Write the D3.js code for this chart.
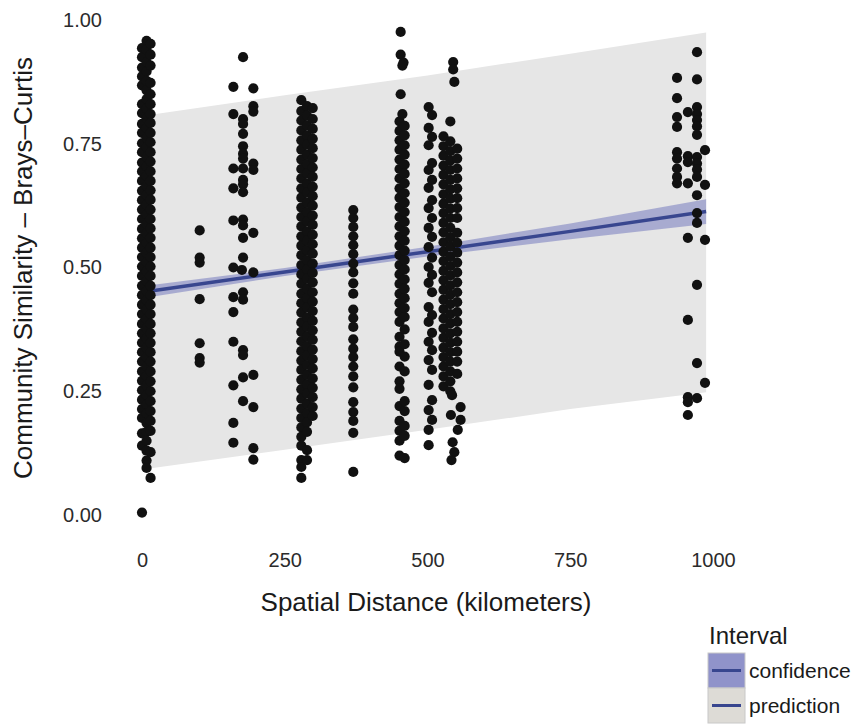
<!DOCTYPE html>
<html>
<head>
<meta charset="utf-8">
<script src="https://cdn.jsdelivr.net/npm/d3@7"></script>
<style>
  body { margin: 0; background: #fff; }
  text { font-family: "Liberation Sans", Arial, Helvetica, sans-serif; }
</style>
</head>
<body>
<script>
// ---- data ----
var xTicks = [0, 250, 500, 750, 1000];
var yTicks = [0, 0.25, 0.5, 0.75, 1];

// fitted line + intervals, sampled along distance
var fitKm = [0, 250, 500, 750, 988];
var fitSim = [0.45, 0.491, 0.532, 0.573, 0.613];
var confLow = [0.438, 0.483, 0.522, 0.557, 0.588];
var confHigh = [0.462, 0.499, 0.542, 0.589, 0.638];
var predLow = [0.092, 0.132, 0.172, 0.214, 0.248];
var predHigh = [0.806, 0.848, 0.888, 0.932, 0.975];

var legendLabels = ["confidence", "prediction"];

// dense columns: one distance per lane, list of similarities per lane
var kmA = [0, 8, 15];
var simA = [
  [0.943, 0.925, 0.904, 0.886, 0.868, 0.83, 0.812, 0.79, 0.772, 0.751, 0.733, 0.712, 0.694, 0.675, 0.655, 0.636, 0.617, 0.598, 0.578, 0.559, 0.54, 0.521, 0.502, 0.483, 0.463, 0.444, 0.425, 0.406, 0.386, 0.367, 0.348, 0.329, 0.31, 0.29, 0.271, 0.252, 0.233, 0.214, 0.196, 0.165, 0.14, 0.005],
  [0.958, 0.94, 0.915, 0.896, 0.877, 0.858, 0.84, 0.821, 0.801, 0.782, 0.762, 0.743, 0.723, 0.704, 0.685, 0.665, 0.646, 0.627, 0.607, 0.588, 0.569, 0.55, 0.53, 0.511, 0.492, 0.473, 0.453, 0.434, 0.415, 0.396, 0.377, 0.357, 0.338, 0.319, 0.3, 0.281, 0.262, 0.242, 0.223, 0.205, 0.186, 0.168, 0.15, 0.13, 0.11, 0.095],
  [0.952, 0.93, 0.908, 0.873, 0.85, 0.83, 0.81, 0.792, 0.772, 0.753, 0.733, 0.714, 0.694, 0.675, 0.656, 0.637, 0.617, 0.598, 0.579, 0.56, 0.54, 0.521, 0.502, 0.483, 0.463, 0.444, 0.425, 0.406, 0.386, 0.367, 0.348, 0.329, 0.31, 0.29, 0.27, 0.25, 0.23, 0.21, 0.19, 0.17, 0.127, 0.075]
];

var kmD = [279, 289, 299];
var simD = [
  [0.838, 0.816, 0.797, 0.777, 0.757, 0.738, 0.718, 0.699, 0.68, 0.66, 0.641, 0.621, 0.602, 0.583, 0.563, 0.544, 0.525, 0.505, 0.486, 0.467, 0.447, 0.428, 0.409, 0.389, 0.37, 0.351, 0.331, 0.312, 0.293, 0.273, 0.254, 0.235, 0.215, 0.196, 0.177, 0.158, 0.14, 0.111, 0.097, 0.075],
  [0.826, 0.807, 0.787, 0.767, 0.748, 0.728, 0.709, 0.69, 0.67, 0.651, 0.631, 0.612, 0.593, 0.573, 0.554, 0.535, 0.515, 0.496, 0.477, 0.457, 0.438, 0.419, 0.399, 0.38, 0.361, 0.341, 0.322, 0.303, 0.283, 0.264, 0.245, 0.225, 0.206, 0.187, 0.168, 0.131, 0.111],
  [0.822, 0.8, 0.78, 0.76, 0.741, 0.721, 0.702, 0.683, 0.663, 0.644, 0.625, 0.605, 0.586, 0.566, 0.547, 0.528, 0.508, 0.489, 0.47, 0.45, 0.431, 0.412, 0.392, 0.373, 0.354, 0.334, 0.315, 0.296, 0.276, 0.257, 0.238, 0.218, 0.2]
];

var kmE = [370];
var simE = [
  [0.616, 0.6, 0.582, 0.563, 0.545, 0.527, 0.508, 0.49, 0.468, 0.447, 0.415, 0.398, 0.38, 0.355, 0.336, 0.319, 0.3, 0.28, 0.258, 0.228, 0.208, 0.19, 0.166, 0.087]
];

var kmF = [451, 460];
var simF = [
  [0.795, 0.776, 0.757, 0.738, 0.718, 0.699, 0.68, 0.66, 0.641, 0.622, 0.602, 0.583, 0.563, 0.544, 0.525, 0.505, 0.486, 0.467, 0.447, 0.428, 0.41, 0.39, 0.36, 0.34, 0.33, 0.3, 0.27, 0.255, 0.22, 0.19, 0.17, 0.15, 0.12],
  [0.786, 0.767, 0.747, 0.728, 0.708, 0.689, 0.67, 0.65, 0.631, 0.612, 0.592, 0.573, 0.554, 0.534, 0.515, 0.496, 0.476, 0.457, 0.438, 0.418, 0.4, 0.375, 0.345, 0.32, 0.29, 0.23, 0.21, 0.18, 0.16, 0.115]
];

var kmG = [502, 508];
var simG = [
  [0.824, 0.782, 0.747, 0.697, 0.661, 0.62, 0.58, 0.541, 0.501, 0.469, 0.42, 0.39, 0.35, 0.313, 0.263, 0.212, 0.172, 0.141],
  [0.808, 0.764, 0.711, 0.677, 0.636, 0.6, 0.562, 0.52, 0.485, 0.45, 0.404, 0.368, 0.333, 0.293, 0.232, 0.192]
];

var kmH = [528, 540, 552];
var simH = [
  [0.765, 0.745, 0.726, 0.706, 0.687, 0.668, 0.648, 0.629, 0.61, 0.59, 0.571, 0.551, 0.532, 0.513, 0.493, 0.474, 0.455, 0.435, 0.416, 0.397, 0.377, 0.358, 0.338, 0.319, 0.3, 0.28, 0.26],
  [0.755, 0.735, 0.716, 0.697, 0.677, 0.658, 0.639, 0.619, 0.6, 0.58, 0.561, 0.542, 0.522, 0.503, 0.484, 0.464, 0.445, 0.426, 0.406, 0.387, 0.367, 0.348, 0.329, 0.31, 0.29, 0.27, 0.25],
  [0.74, 0.72, 0.7, 0.68, 0.66, 0.64, 0.62, 0.6, 0.57, 0.55, 0.53, 0.51, 0.49, 0.47, 0.45, 0.43, 0.41, 0.39, 0.37, 0.35, 0.33, 0.31, 0.285]
];

// loose points [km, similarity]
var loosePoints = [
  [101, 0.575], [101, 0.52], [101, 0.51], [101, 0.436], [101, 0.347], [101, 0.317], [101, 0.308],
  [177, 0.925], [160, 0.865], [195, 0.862], [195, 0.826], [195, 0.815], [160, 0.81], [177, 0.8], [177, 0.79],
  [177, 0.77], [177, 0.745], [177, 0.73], [177, 0.72], [195, 0.71], [160, 0.7], [177, 0.7], [195, 0.697],
  [177, 0.677], [177, 0.668], [160, 0.66], [177, 0.652], [160, 0.595], [177, 0.597], [177, 0.585], [195, 0.57],
  [177, 0.56], [177, 0.52], [160, 0.5], [175, 0.495], [195, 0.49], [177, 0.45], [160, 0.44], [177, 0.435],
  [160, 0.41], [160, 0.35], [177, 0.333], [177, 0.323], [195, 0.283], [177, 0.278], [160, 0.262], [177, 0.23],
  [195, 0.218], [160, 0.186], [160, 0.146], [195, 0.135], [195, 0.112],
  [453, 0.976], [453, 0.93], [458, 0.914], [456, 0.908], [453, 0.85], [456, 0.81],
  [545, 0.915], [545, 0.9], [547, 0.875], [540, 0.795],
  [543, 0.242], [558, 0.218], [541, 0.202], [558, 0.192], [553, 0.172], [544, 0.147], [547, 0.127], [542, 0.111],
  [972, 0.935], [937, 0.883], [972, 0.88], [937, 0.842], [972, 0.824], [956, 0.814], [972, 0.81], [937, 0.804],
  [972, 0.798], [937, 0.784], [972, 0.785], [972, 0.768], [986, 0.737], [937, 0.733], [956, 0.725], [972, 0.723],
  [937, 0.72], [956, 0.713], [972, 0.71], [937, 0.7], [972, 0.698], [937, 0.683], [972, 0.683], [937, 0.67],
  [956, 0.67], [986, 0.667], [972, 0.646], [972, 0.61], [972, 0.59], [956, 0.56], [986, 0.556], [972, 0.465],
  [956, 0.394], [972, 0.307], [986, 0.267], [956, 0.238], [972, 0.236], [956, 0.228], [956, 0.202]
];

// ---- drawing ----
var width = 856, height = 727;

var svg = d3.select("body").append("svg")
  .attr("width", width)
  .attr("height", height);

var x = d3.scaleLinear().domain([0, 1000]).range([142, 713]);
var y = d3.scaleLinear().domain([0, 1]).range([515, 20]);

function lanes(kms, sims) {
  return kms.flatMap(function(k, i) { return sims[i].map(function(s) { return [k, s]; }); });
}

var points = [].concat(
  lanes(kmA, simA), lanes(kmD, simD), lanes(kmE, simE), lanes(kmF, simF),
  lanes(kmG, simG), lanes(kmH, simH), loosePoints
);

var band = fitKm.map(function(k, i) {
  return { km: k, fit: fitSim[i], cl: confLow[i], ch: confHigh[i], pl: predLow[i], ph: predHigh[i] };
});

var predArea = d3.area()
  .x(function(d) { return x(d.km); })
  .y0(function(d) { return y(d.pl); })
  .y1(function(d) { return y(d.ph); });

var confArea = d3.area()
  .x(function(d) { return x(d.km); })
  .y0(function(d) { return y(d.cl); })
  .y1(function(d) { return y(d.ch); });

var fitLine = d3.line()
  .x(function(d) { return x(d.km); })
  .y(function(d) { return y(d.fit); });

svg.append("path").datum(band)
  .attr("d", predArea)
  .style("fill", "#e6e6e6");

svg.append("path").datum(band)
  .attr("d", confArea)
  .style("fill", "#7f83c2")
  .style("opacity", 0.6);

svg.append("path").datum(band)
  .attr("d", fitLine)
  .style("fill", "none")
  .style("stroke", "#38468f")
  .style("stroke-width", 3.5);

svg.append("g").selectAll("circle")
  .data(points)
  .enter().append("circle")
  .attr("cx", function(d) { return x(d[0]); })
  .attr("cy", function(d) { return y(d[1]); })
  .attr("r", 5.1)
  .style("fill", "#111");

// axes (no lines, labels only)
var xAxis = svg.append("g")
  .attr("transform", "translate(0,547)")
  .call(d3.axisBottom(x).tickValues(xTicks).tickFormat(d3.format("d")).tickSize(0).tickPadding(6));

var yAxis = svg.append("g")
  .attr("transform", "translate(108,0)")
  .call(d3.axisLeft(y).tickValues(yTicks).tickFormat(d3.format(".2f")).tickSize(0).tickPadding(6));

[xAxis, yAxis].forEach(function(ax) {
  ax.select(".domain").remove();
  ax.selectAll("text")
    .style("font-family", "'Liberation Sans', Arial, sans-serif")
    .style("font-size", "20px")
    .style("fill", "#2b2b2b");
});

svg.append("text")
  .attr("x", 426)
  .attr("y", 611)
  .attr("text-anchor", "middle")
  .style("font-size", "26px")
  .style("fill", "#1a1a1a")
  .text("Spatial Distance (kilometers)");

svg.append("text")
  .attr("transform", "translate(32,268) rotate(-90)")
  .attr("text-anchor", "middle")
  .style("font-size", "26px")
  .style("fill", "#1a1a1a")
  .text("Community Similarity \u2013 Brays\u2013Curtis");

// legend
var legend = svg.append("g")
  .attr("class", "legend")
  .attr("transform", "translate(708,0)");

legend.append("text")
  .attr("x", 1)
  .attr("y", 644)
  .style("font-size", "24px")
  .style("fill", "#1a1a1a")
  .text("Interval");

var keyFill = ["#9093ca", "#dddbd6"];
var keys = legend.selectAll(".key")
  .data(legendLabels)
  .enter().append("g")
  .attr("class", "key")
  .attr("transform", function(d, i) { return "translate(0," + (653 + i * 35) + ")"; });

keys.append("rect")
  .attr("width", 37)
  .attr("height", 35)
  .style("fill", function(d, i) { return keyFill[i]; })
  .style("stroke", "#c8c8c8")
  .style("stroke-width", 1);

keys.append("line")
  .attr("x1", 4).attr("x2", 33)
  .attr("y1", 17.5).attr("y2", 17.5)
  .style("stroke", "#38468f")
  .style("stroke-width", 3);

keys.append("text")
  .attr("x", 41)
  .attr("y", 25)
  .style("font-size", "21px")
  .style("fill", "#1a1a1a")
  .text(function(d) { return d; });
</script>
</body>
</html>
